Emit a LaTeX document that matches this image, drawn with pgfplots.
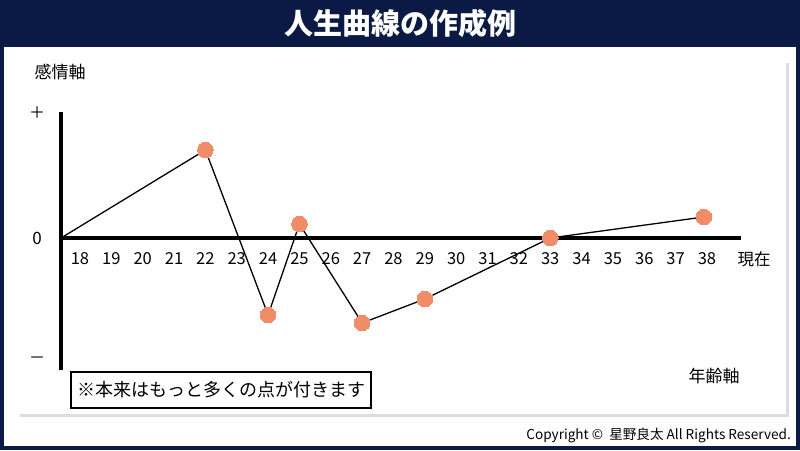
\documentclass[border=0pt]{standalone}
\usepackage{fontspec}
\setmainfont{Noto Sans CJK JP}
\usepackage{pgfplots}
\pgfplotsset{compat=1.18}
\definecolor{navy}{HTML}{0A1A45}
\definecolor{salmon}{HTML}{EF8D68}
\definecolor{framegray}{HTML}{DDDDDD}
\begin{document}
\begin{tikzpicture}[x=1pt,y=1pt]
\fill[navy] (0,0) rectangle (800,450);
\fill[white] (4,4) rectangle (796,403);
\node[white,font=\bfseries\fontsize{29}{29}\selectfont] at (400,427) {人生曲線の作成例};
\draw[framegray,line width=3pt] (20,35) -- (787,35) -- (787,387);
\node[anchor=base east,inner sep=0pt,font=\fontsize{13.6}{13.6}\selectfont] at (791,11) {Copyright ©\ \ 星野良太 All Rights Reserved.};
\node[draw,line width=2.5pt,minimum width=300pt,minimum height=36pt,inner sep=0pt,font=\fontsize{18}{18}\selectfont] at (221,60) {※本来はもっと多くの点が付きます};
\node[font=\fontsize{17}{17}\selectfont] at (60,378) {感情軸};
\node[font=\fontsize{17}{17}\selectfont] at (714,74) {年齢軸};
\begin{axis}[
  at={(61pt,80pt)}, anchor=south west,
  scale only axis, width=680pt, height=258pt,
  xmin=17.394, xmax=39.085, ymin=-132, ymax=126,
  axis x line=middle, axis y line=left,
  axis line style={-, line width=4pt, black},
  xtick={18,...,38}, ytick=\empty,
  major tick length=0pt,
  /pgf/number format/assume math mode=true,
  xticklabel style={font=\fontsize{16.5}{16.5}\selectfont, anchor=center, yshift=-21pt},
  clip=false,
]
\addplot[black, line width=1.3pt, mark=*, mark size=7.8pt,
  mark options={fill=salmon, draw=salmon, line width=0pt}, mark indices={2,3,4,5,6,7,8}]
  coordinates {(17.394,0) (22,88) (24,-77) (25,14) (27,-85) (29,-61) (33,0) (37.9,21)};
\node[font=\fontsize{16.5}{16.5}\selectfont] at (axis cs:39.5,-21) {現在};
\node[font=\fontsize{16}{16}\selectfont] at (axis cs:16.63,125) {＋};
\node[font=\fontsize{17}{17}\selectfont] at (axis cs:16.63,0) {0};
\node[font=\fontsize{16}{16}\selectfont] at (axis cs:16.63,-122) {－};
\end{axis}
\end{tikzpicture}
\end{document}
